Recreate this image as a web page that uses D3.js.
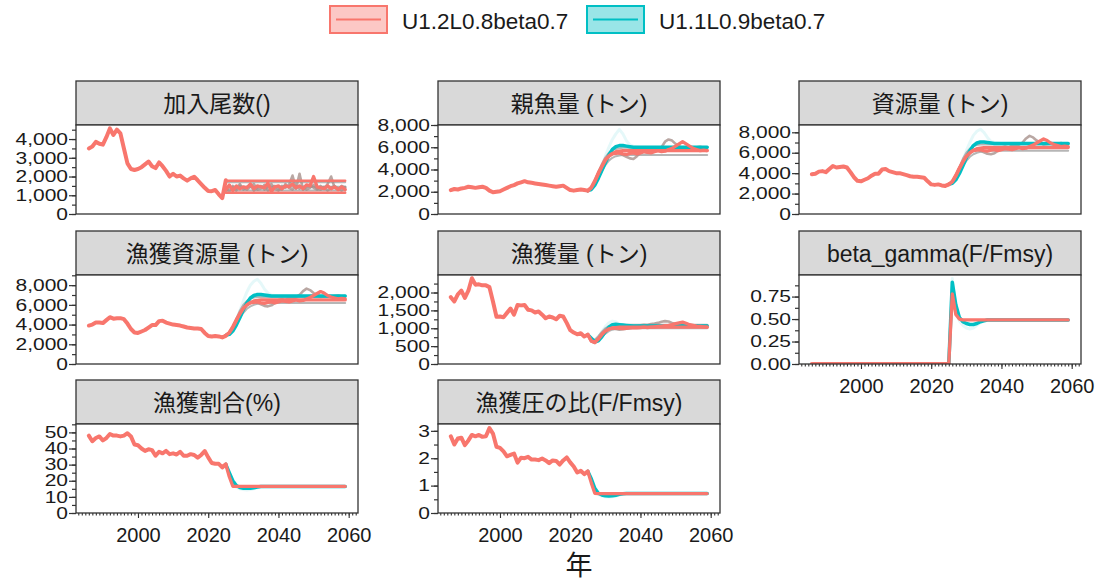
<!DOCTYPE html>
<html><head><meta charset="utf-8">
<script src="https://cdn.jsdelivr.net/npm/d3@7"></script>
<style>
body{margin:0;background:#fff}
svg{font-family:"Liberation Sans",Arial,"Noto Sans CJK JP",sans-serif}
</style></head><body><svg id="c" width="1104" height="581"></svg>
<script>
// ---------- data ----------
const histYears = [1986,1987,1988,1989,1990,1991,1992,1993,1994,1995,1996,1997,1998,1999,2000,2001,2002,2003,2004,2005,
  2006,2007,2008,2009,2010,2011,2012,2013,2014,2015,2016,2017,2018,2019,2020,2021,2022,2023,2024,2025];
const futYears = [2025,2026,2027,2028,2029,2030,2031,2032,2033,2034,2035,2036,2037,2038,2039,2040,2041,2042,2043,2044,
  2045,2046,2047,2048,2049,2050,2051,2052,2053,2054,2055,2056,2057,2058,2059];
const scenarios = ["U1.2L0.8beta0.7", "U1.1L0.9beta0.7"];
const panelTitles = ["加入尾数()", "親魚量 (トン)", "資源量 (トン)", "漁獲資源量 (トン)", "漁獲量 (トン)", "beta_gamma(F/Fmsy)", "漁獲割合(%)", "漁獲圧の比(F/Fmsy)"];
const xMajorTicks = [2000, 2020, 2040, 2060];
const xTitle = "年";

// 加入尾数
const recHist = [3500,3600,3850,3750,3700,4100,4570,4220,4500,4300,3500,2700,2400,2350,2400,2500,
  2650,2800,2550,2450,2750,2550,2300,2000,2150,2000,2050,1900,1780,1900,1990,1800,1600,1400,1230,1220,1280,1050,850,1800];
const recHi = [1780,1780,1780,1780,1780,1780,1780,1780,1780,1780,1780,1780,1780,1780,1780,1780,1780,1780,1780,1780,1780,1780,1780,1780,1780,1780,1780,1780,1780,1780,1780,1780,1780,1780,1780];
const recLo = [1130,1130,1130,1130,1130,1130,1130,1130,1130,1130,1130,1130,1130,1130,1130,1130,1130,1130,1130,1130,1130,1130,1130,1130,1130,1130,1130,1130,1130,1130,1130,1130,1130,1130,1130];
const recGreyHi = [1700,1700,1700,1700,1700,1700,1700,1700,1700,1700,1700,1700,1700,1700,1700,1700,1700,1700,1700,1700,1700,1700,1700,1700,1700,1700,1700,1700,1700,1700,1700,1700,1700,1700,1700];
const recGreyMid = [1450,1450,1450,1450,1450,1450,1450,1450,1450,1450,1450,1450,1450,1450,1450,1450,1450,1450,1450,1450,1450,1450,1450,1450,1450,1450,1450,1450,1450,1450,1450,1450,1450,1450,1450];
const recGreyLo = [1250,1250,1250,1250,1250,1250,1250,1250,1250,1250,1250,1250,1250,1250,1250,1250,1250,1250,1250,1250,1250,1250,1250,1250,1250,1250,1250,1250,1250,1250,1250,1250,1250,1250,1250];
const recSim1 = [1400,1200,1500,1350,1600,1300,1450,1550,1250,1400,1500,1300,1450,1600,1350,1250,1500,1400,1550,2050,1350,2150,1300,1450,1550,1400,1300,1500,1350,1600,2000,1400,1300,1500,1400];
const recSim2 = [1200,1450,1350,1250,1500,1400,1300,1450,1600,1300,1350,1550,1250,1400,1500,1350,1300,1600,1400,1300,1500,1350,1450,1300,1400,1550,1350,1300,1450,1250,1400,1500,1350,1250,1450];
const recSimRed = [1300,1550,1250,1500,1350,1450,1400,1600,1350,1500,1450,1400,1650,1200,1450,1500,1350,1500,1450,1600,1400,1500,1350,1550,1500,2000,1450,1400,1350,1500,1350,1450,1300,1450,1300];

// 親魚量
const ssbHist = [2150,2250,2200,2300,2350,2450,2400,2350,2400,2450,2350,2100,1950,2000,2050,2200,2350,2500,2600,2750,
  2850,2950,2850,2800,2750,2700,2650,2600,2550,2500,2450,2500,2550,2350,2150,2100,2150,2200,2150,2100];
const ssbRed = [2100,2350,2900,3600,4250,4800,5200,5450,5600,5650,5700,5700,5700,5700,5700,5700,5700,5700,5700,5700,5700,5700,5700,5700,5700,5700,5700,5700,5700,5700,5700,5700,5700,5700,5700];
const ssbCyan = [2100,2200,2600,3200,3900,4600,5300,5800,6050,6150,6150,6100,6050,6000,6000,6000,6000,6000,6000,6000,6000,6000,6000,6000,6000,6000,6000,6000,6000,6000,6000,6000,6000,6000,6000];
const ssbHi = [2100,2400,3000,3800,4500,5100,5500,5750,5850,5900,5950,5950,5950,5950,5950,5950,5950,5950,5950,5950,5950,5950,5950,5950,5950,5950,5950,5950,5950,5950,5950,5950,5950,5950,5950];
const ssbLo = [2100,2250,2700,3300,3900,4400,4800,5050,5200,5250,5300,5300,5300,5300,5300,5300,5300,5300,5300,5300,5300,5300,5300,5300,5300,5300,5300,5300,5300,5300,5300,5300,5300,5300,5300];
const ssbSim1 = [2100,2300,2800,3500,4200,4800,5200,5400,5500,5450,5300,5150,5000,4950,5200,5500,5600,5500,5700,5650,5800,6000,6500,6700,6600,6300,6100,5900,5950,6000,5900,6000,6050,5950,6000];
const ssbSimRed = [2100,2400,3000,3700,4300,4900,5200,5400,5450,5500,5400,5350,5450,5500,5400,5500,5600,5550,5500,5600,5700,5600,5650,5800,5900,6100,6300,6500,6300,6100,5900,5800,5700,5750,5700];
const ssbLight = [2100,2300,2800,3500,4300,5200,6000,6700,7200,7600,7200,6600,6200,6100,6050,6000,6000,6000,6000,6000,6000,6000,6000,6000,6000,6000,6000,6000,6000,6000,6000,6000,6000,6000,6000];

// 資源量
const biomHist = [3900,3950,4150,4200,4100,4400,4700,4550,4600,4650,4550,4100,3600,3250,3200,3350,3500,3750,3950,3950,
  4350,4400,4200,4100,4000,4000,3900,3800,3700,3650,3650,3600,3550,3200,2900,2850,2900,2800,2750,2900];
const biomRed = [2900,3150,3700,4400,5100,5650,6000,6250,6400,6450,6500,6500,6500,6500,6500,6500,6500,6500,6500,6500,6500,6500,6500,6500,6500,6500,6500,6500,6500,6500,6500,6500,6500,6500,6500];
const biomCyan = [2900,3000,3350,3950,4700,5500,6200,6700,6950,7050,7050,7000,6950,6900,6900,6900,6900,6900,6900,6900,6900,6900,6900,6900,6900,6900,6900,6900,6900,6900,6900,6900,6900,6900,6900];
const biomHi = [2900,3200,3800,4600,5400,6000,6400,6650,6750,6800,6800,6800,6800,6800,6800,6800,6800,6800,6800,6800,6800,6800,6800,6800,6800,6800,6800,6800,6800,6800,6800,6800,6800,6800,6800];
const biomLo = [2900,3050,3500,4100,4700,5200,5600,5850,6000,6100,6200,6200,6200,6200,6200,6200,6200,6200,6200,6200,6200,6200,6200,6200,6200,6200,6200,6200,6200,6200,6200,6200,6200,6200,6200];
const biomSim1 = [2900,3100,3600,4300,5000,5600,6000,6200,6300,6200,6050,5900,5850,5950,6200,6500,6600,6500,6700,6650,6800,7000,7400,7650,7500,7200,7000,6800,6850,6900,6800,6900,6950,6850,6900];
const biomSimRed = [2900,3200,3800,4500,5100,5650,6000,6200,6250,6300,6200,6150,6250,6300,6200,6300,6400,6350,6300,6400,6500,6400,6450,6600,6750,6950,7150,7350,7200,6950,6800,6700,6600,6650,6600];
const biomLight = [2900,3100,3600,4300,5200,6200,7000,7700,8100,8300,8000,7500,7100,7000,6950,6900,6900,6900,6900,6900,6900,6900,6900,6900,6900,6900,6900,6900,6900,6900,6900,6900,6900,6900,6900];

// 漁獲資源量
const cbiomHist = [3900,4000,4200,4200,4150,4450,4750,4600,4650,4650,4550,4100,3550,3200,3150,3300,3450,3700,3950,3950,
  4350,4400,4200,4100,4000,3950,3900,3800,3700,3650,3600,3600,3550,3150,2850,2800,2850,2800,2700,2850];
const cbiomLight = [2850,3100,3600,4400,5400,6400,7300,8000,8400,8600,8200,7600,7200,7000,6950,6900,6900,6900,6900,6900,6900,6900,6900,6900,6900,6900,6900,6900,6900,6900,6900,6900,6900,6900,6900];

// 漁獲量
const catchHist = [1870,1750,1950,2050,1850,2050,2400,2220,2230,2200,2200,2150,1750,1320,1330,1310,1430,1550,1380,1650,
  1640,1650,1520,1500,1440,1470,1380,1280,1330,1300,1250,1350,1330,1150,950,880,830,860,770,820];
const catchRed = [820,650,600,700,820,920,980,1010,1020,1030,1030,1030,1030,1030,1030,1030,1030,1030,1030,1030,1030,1030,1030,1030,1030,1030,1030,1030,1030,1030,1030,1030,1030,1030,1030];
const catchCyan = [820,720,620,650,760,900,1030,1100,1110,1100,1090,1080,1070,1060,1060,1060,1060,1060,1060,1060,1060,1060,1060,1060,1060,1060,1060,1060,1060,1060,1060,1060,1060,1060,1060];
const catchHi = [820,700,680,780,900,1000,1060,1090,1100,1100,1100,1100,1100,1100,1100,1100,1100,1100,1100,1100,1100,1100,1100,1100,1100,1100,1100,1100,1100,1100,1100,1100,1100,1100,1100];
const catchLo = [820,620,580,660,760,850,920,960,980,990,1000,1000,1000,1000,1000,1000,1000,1000,1000,1000,1000,1000,1000,1000,1000,1000,1000,1000,1000,1000,1000,1000,1000,1000,1000];
const catchSim1 = [820,650,620,720,840,930,990,1000,980,960,970,990,1000,1020,1050,1080,1100,1090,1120,1130,1150,1180,1200,1190,1150,1120,1100,1080,1060,1050,1070,1080,1060,1070,1080];
const catchSimRed = [820,640,610,700,830,920,980,1000,1010,1000,990,1000,1010,1020,1010,1020,1030,1020,1030,1040,1050,1060,1070,1080,1100,1130,1150,1170,1140,1100,1080,1060,1050,1040,1030];
const catchLight = [820,700,650,750,900,1050,1150,1200,1180,1120,1080,1060,1060,1060,1060,1060,1060,1060,1060,1060,1060,1060,1060,1060,1060,1060,1060,1060,1060,1060,1060,1060,1060,1060,1060];

// beta_gamma
const betaHist = [0,0,0,0,0,0,0,0,0,0,0,0,0,0,0,0,0,0,0,0,0,0,0,0,0,0,0,0,0,0,0,0,0,0,0,0,0,0,0,0];
const betaRed = [0,0.78,0.55,0.5,0.49,0.49,0.49,0.49,0.49,0.49,0.49,0.49,0.49,0.49,0.49,0.49,0.49,0.49,0.49,0.49,0.49,0.49,0.49,0.49,0.49,0.49,0.49,0.49,0.49,0.49,0.49,0.49,0.49,0.49,0.49];
const betaCyan = [0,0.91,0.66,0.52,0.47,0.45,0.44,0.44,0.45,0.47,0.48,0.49,0.49,0.49,0.49,0.49,0.49,0.49,0.49,0.49,0.49,0.49,0.49,0.49,0.49,0.49,0.49,0.49,0.49,0.49,0.49,0.49,0.49,0.49,0.49];
const betaLight = [0,0.95,0.62,0.48,0.43,0.40,0.39,0.40,0.43,0.46,0.48,0.49,0.49,0.49,0.49,0.49,0.49,0.49,0.49,0.49,0.49,0.49,0.49,0.49,0.49,0.49,0.49,0.49,0.49,0.49,0.49,0.49,0.49,0.49,0.49];

// 漁獲割合(%)
const rateHist = [48,44.5,46.5,47.5,45,46.5,49,48,48,47.5,48,49.5,47.5,42.5,42,40,38.5,39.5,39,35.5,
  38,37,38.5,36.5,37,36.3,38,35.5,35.5,36.5,36,34.3,36,38.4,34.5,31,30.5,30.5,28.3,30.2];
const rateRed = [30.2,22.5,16.6,16.5,16.5,16.5,16.5,16.5,16.5,16.5,16.5,16.5,16.5,16.5,16.5,16.5,16.5,16.5,16.5,16.5,16.5,16.5,16.5,16.5,16.5,16.5,16.5,16.5,16.5,16.5,16.5,16.5,16.5,16.5,16.5];
const rateCyan = [30.2,25,20,17,15.8,15.4,15.3,15.4,15.7,16.1,16.4,16.5,16.5,16.5,16.5,16.5,16.5,16.5,16.5,16.5,16.5,16.5,16.5,16.5,16.5,16.5,16.5,16.5,16.5,16.5,16.5,16.5,16.5,16.5,16.5];
const rateLight = [30.2,24,19,16,15,14.5,14.3,14.5,15,15.6,16.2,16.5,16.5,16.5,16.5,16.5,16.5,16.5,16.5,16.5,16.5,16.5,16.5,16.5,16.5,16.5,16.5,16.5,16.5,16.5,16.5,16.5,16.5,16.5,16.5];

// 漁獲圧の比(F/Fmsy)
const frHist = [2.8,2.5,2.72,2.75,2.48,2.65,2.85,2.8,2.85,2.78,2.8,3.1,2.9,2.42,2.38,2.25,2.07,2.12,2.17,1.84,
  2.02,2.0,2.05,1.95,1.95,1.93,1.99,1.92,1.82,1.92,1.9,1.77,1.92,2.03,1.85,1.7,1.48,1.54,1.42,1.52];
const frRed = [1.52,1.1,0.72,0.71,0.71,0.71,0.71,0.71,0.71,0.71,0.71,0.71,0.71,0.71,0.71,0.71,0.71,0.71,0.71,0.71,0.71,0.71,0.71,0.71,0.71,0.71,0.71,0.71,0.71,0.71,0.71,0.71,0.71,0.71,0.71];
const frCyan = [1.52,1.25,0.9,0.72,0.66,0.63,0.62,0.63,0.65,0.68,0.70,0.71,0.71,0.71,0.71,0.71,0.71,0.71,0.71,0.71,0.71,0.71,0.71,0.71,0.71,0.71,0.71,0.71,0.71,0.71,0.71,0.71,0.71,0.71,0.71];
const frLight = [1.52,1.2,0.85,0.68,0.62,0.59,0.58,0.59,0.62,0.66,0.69,0.71,0.71,0.71,0.71,0.71,0.71,0.71,0.71,0.71,0.71,0.71,0.71,0.71,0.71,0.71,0.71,0.71,0.71,0.71,0.71,0.71,0.71,0.71,0.71];

// ---------- layout / style ----------
const RED = "#F8766D", CYAN = "#00BFC4";
const colX = [76, 438, 799], rowY = [81, 231, 380];
const PW = 282, SH = 44, PH = 89;
const xDomain = [1982.35, 2062.65];
const comma = d3.format(",");

const panels = [
  {col:0,row:0, yMax:4750, major:1000, minor:500, fmt:comma, xaxis:false,
   hist:recHist, light:[], grey:[recGreyHi,recGreyMid,recGreyLo], sims:[recSim1,recSim2], cyan:[], redThin:[recHi,recLo], red:[recSimRed]},
  {col:1,row:0, yMax:8000, major:2000, minor:1000, fmt:comma, xaxis:false,
   hist:ssbHist, light:[ssbLight], grey:[ssbHi,ssbLo], sims:[ssbSim1], cyan:[ssbCyan], redThin:[], red:[ssbRed,ssbSimRed]},
  {col:2,row:0, yMax:8715, major:2000, minor:1000, fmt:comma, xaxis:false,
   hist:biomHist, light:[biomLight], grey:[biomHi,biomLo], sims:[biomSim1], cyan:[biomCyan], redThin:[], red:[biomRed,biomSimRed]},
  {col:0,row:1, yMax:9030, major:2000, minor:1000, fmt:comma, xaxis:false,
   hist:cbiomHist, light:[cbiomLight], grey:[biomHi,biomLo], sims:[biomSim1], cyan:[biomCyan], redThin:[], red:[biomRed,biomSimRed]},
  {col:1,row:1, yMax:2490, major:500, minor:250, fmt:comma, xaxis:false,
   hist:catchHist, light:[catchLight], grey:[catchHi,catchLo], sims:[catchSim1], cyan:[catchCyan], redThin:[], red:[catchRed,catchSimRed]},
  {col:2,row:1, yMax:0.99, major:0.25, minor:0.125, fmt:d3.format(".2f"), xaxis:true,
   hist:betaHist, light:[betaLight], grey:[], sims:[], cyan:[betaCyan], redThin:[], red:[betaRed]},
  {col:0,row:2, yMax:55.2, major:10, minor:5, fmt:d3.format("d"), xaxis:true,
   hist:rateHist, light:[rateLight], grey:[], sims:[], cyan:[rateCyan], redThin:[], red:[rateRed]},
  {col:1,row:2, yMax:3.25, major:1, minor:0.5, fmt:d3.format("d"), xaxis:true,
   hist:frHist, light:[frLight], grey:[], sims:[], cyan:[frCyan], redThin:[], red:[frRed]},
];

const svg = d3.select("#c");
const defs = svg.append("defs");
defs.append("clipPath").attr("id", "pclip").append("rect").attr("width", PW).attr("height", PH);

// legend
const leg = svg.append("g");
const legX = [330, 587], legTextX = [402, 659], legColors = [RED, CYAN];
scenarios.forEach((s, i) => {
  const g = leg.append("g");
  g.append("rect").attr("x", legX[i]).attr("y", 6).attr("width", 57).attr("height", 27)
    .attr("fill", legColors[i]).attr("fill-opacity", 0.4)
    .attr("stroke", legColors[i]).attr("stroke-width", 2);
  g.append("line").attr("x1", legX[i] + 6).attr("x2", legX[i] + 51).attr("y1", 19.5).attr("y2", 19.5)
    .attr("stroke", legColors[i]).attr("stroke-width", 2);
  g.append("text").attr("x", legTextX[i]).attr("y", 28.5).attr("font-size", 22.5).attr("fill", "#1a1a1a").text(s);
});

panels.forEach((p, pi) => {
  const g = svg.append("g").attr("transform", `translate(${colX[p.col]},${rowY[p.row]})`);
  // strip
  g.append("rect").attr("width", PW).attr("height", SH).attr("fill", "#D9D9D9")
    .attr("stroke", "#333").attr("stroke-width", 1.3);
  g.append("text").attr("x", PW / 2).attr("y", SH / 2 + 1).attr("text-anchor", "middle")
    .attr("dominant-baseline", "central").attr("font-size", 23).attr("fill", "#1a1a1a").text(panelTitles[pi]);

  const pg = g.append("g").attr("transform", `translate(0,${SH})`);
  pg.append("rect").attr("width", PW).attr("height", PH).attr("fill", "#fff");
  const lines = pg.append("g").attr("clip-path", "url(#pclip)");
  const x = d3.scaleLinear().domain(xDomain).range([0, PW]);
  const y = d3.scaleLinear().domain([0, p.yMax]).range([PH, 0]);
  const lineF = yrs => d3.line().x((d, i) => x(yrs[i])).y(d => y(d));
  const draw = (arr, yrs, color, w, op) => {
    lines.append("path").datum(arr).attr("d", lineF(yrs)).attr("fill", "none")
      .attr("stroke", color).attr("stroke-width", w).attr("stroke-opacity", op)
      .attr("stroke-linejoin", "round").attr("stroke-linecap", "round");
  };
  p.light.forEach(a => draw(a, futYears, CYAN, 3, 0.1));
  p.grey.forEach(a => draw(a, futYears, "#8f8f8f", 2, 0.65));
  p.sims.forEach(a => draw(a, futYears, "#a8918c", 2.6, 0.8));
  p.cyan.forEach(a => draw(a, futYears, CYAN, 3.5, 1));
  p.redThin.forEach(a => draw(a, futYears, RED, 2.5, 1));
  p.red.forEach(a => draw(a, futYears, RED, 3.3, 1));
  draw(p.hist, histYears, RED, 4, 1);

  pg.append("rect").attr("width", PW).attr("height", PH).attr("fill", "none")
    .attr("stroke", "#333").attr("stroke-width", 1.3);

  // y axis
  const majorVals = d3.range(0, p.yMax + 1e-9, p.major);
  const minorVals = d3.range(0, p.yMax + 1e-9, p.minor);
  const yMinor = pg.append("g").call(d3.axisLeft(y).tickValues(minorVals).tickSize(4).tickFormat(""));
  const yMajor = pg.append("g").call(d3.axisLeft(y).tickValues(majorVals).tickSize(7).tickPadding(1).tickFormat(p.fmt));
  [yMinor, yMajor].forEach(a => {
    a.select(".domain").remove();
    a.selectAll(".tick line").attr("stroke", "#333").attr("stroke-width", 1.2);
  });
  yMajor.selectAll(".tick text").attr("font-size", 21).attr("fill", "#1a1a1a")
    .attr("font-family", "'Liberation Sans', Arial, sans-serif")
    .attr("transform", "scale(1,0.78)");

  if (p.xaxis) {
    const xMinor = pg.append("g").attr("transform", `translate(0,${PH})`)
      .call(d3.axisBottom(x).tickValues(d3.range(1983, 2063)).tickSize(2.5).tickFormat(""));
    const xMajor = pg.append("g").attr("transform", `translate(0,${PH})`)
      .call(d3.axisBottom(x).tickValues(xMajorTicks).tickSize(5).tickPadding(9.5).tickFormat(d3.format("d")));
    [xMinor, xMajor].forEach(a => {
      a.select(".domain").remove();
      a.selectAll(".tick line").attr("stroke", "#333").attr("stroke-width", 1.1);
    });
    xMajor.selectAll(".tick text").attr("font-size", 20).attr("fill", "#1a1a1a")
      .attr("font-family", "'Liberation Sans', Arial, sans-serif");
  }
});

svg.append("text").attr("x", 579).attr("y", 575).attr("text-anchor", "middle")
  .attr("font-size", 27).attr("fill", "#1a1a1a").text(xTitle);
</script></body></html>
